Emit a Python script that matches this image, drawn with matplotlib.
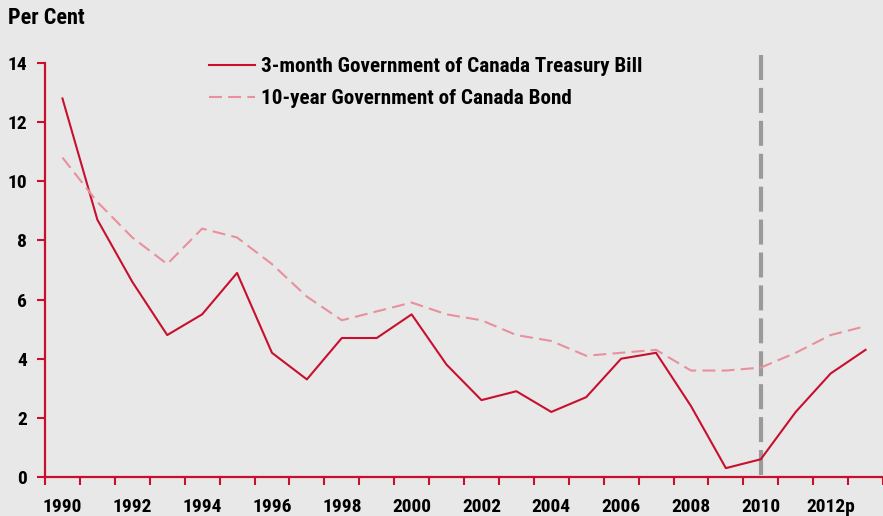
import matplotlib.pyplot as plt
import numpy as np

# Annual average interest rates, per cent
years = ['1990', '1991', '1992', '1993', '1994', '1995', '1996', '1997',
         '1998', '1999', '2000', '2001', '2002', '2003', '2004', '2005',
         '2006', '2007', '2008', '2009', '2010', '2011', '2012p', '2013p']
tbill_3m = [12.8, 8.7, 6.6, 4.8, 5.5, 6.9, 4.2, 3.3, 4.7, 4.7, 5.5, 3.8,
            2.6, 2.9, 2.2, 2.7, 4.0, 4.2, 2.4, 0.3, 0.6, 2.2, 3.5, 4.3]
bond_10y = [10.8, 9.3, 8.1, 7.2, 8.4, 8.1, 7.2, 6.1, 5.3, 5.6, 5.9, 5.5,
            5.3, 4.8, 4.6, 4.1, 4.2, 4.3, 3.6, 3.6, 3.7, 4.2, 4.8, 5.1]
forecast_start = '2010'

BG = '#e8e8e8'
RED = '#c8102e'
PINK = '#e8909c'
GREY = '#9a9a9a'

plt.rcParams['font.family'] = ['Roboto Condensed', 'DejaVu Sans']

fig = plt.figure(figsize=(8.83, 5.16), dpi=100, facecolor=BG)
ax = fig.add_axes([45 / 883, 1 - 477 / 516, 1 - 45 / 883, (477 - 63) / 516])
ax.set_facecolor(BG)

x = np.arange(len(years))
ax.plot(x, tbill_3m, color=RED, lw=1.5, label='3-month Government of Canada Treasury Bill')
ax.plot(x, bond_10y, color=PINK, lw=1.5, dashes=(6.2, 3),
        label='10-year Government of Canada Bond')

# forecast marker, drawn top-down so the dash pattern starts at the top
xv = years.index(forecast_start)
ax.plot([xv, xv], [14.27, 0], color=GREY, lw=3, dashes=(6, 1.9),
        clip_on=False, zorder=1)

ax.set_xlim(-0.5, len(years) - 0.55)
ax.set_ylim(0, 14)
ax.set_yticks(np.arange(0, 15, 2))

# ticks between categories, labels on every other category
ax.set_xticks(np.arange(-0.5, len(years), 1.0))
ax.set_xticklabels([])
ax.set_xticks(x[::2], minor=True)
ax.set_xticklabels(years[::2], minor=True)
ax.tick_params(axis='x', which='major', length=6, width=1.5, color=RED, direction='out')
ax.tick_params(axis='x', which='minor', length=0, pad=15, labelsize=14)
ax.tick_params(axis='y', length=6, width=1.5, color=RED, labelsize=14, pad=7)
for lbl in ax.get_xticklabels(minor=True) + ax.get_yticklabels():
    lbl.set_fontweight('bold')

for side in ['top', 'right']:
    ax.spines[side].set_visible(False)
for side in ['left', 'bottom']:
    ax.spines[side].set_color(RED)
    ax.spines[side].set_linewidth(1.6)

fig.text(8 / 883, 1 - 18 / 516, 'Per Cent', fontsize=16, fontweight='bold', va='center')

leg = ax.legend(loc='upper left', bbox_to_anchor=(190 / 883, 1 - 38 / 516),
                bbox_transform=fig.transFigure, frameon=False, fontsize=15.2,
                handlelength=2.2, handletextpad=0.27, labelspacing=0.62)
for t in leg.get_texts():
    t.set_fontweight('bold')

fig.savefig('out.png', dpi=100, facecolor=BG)
